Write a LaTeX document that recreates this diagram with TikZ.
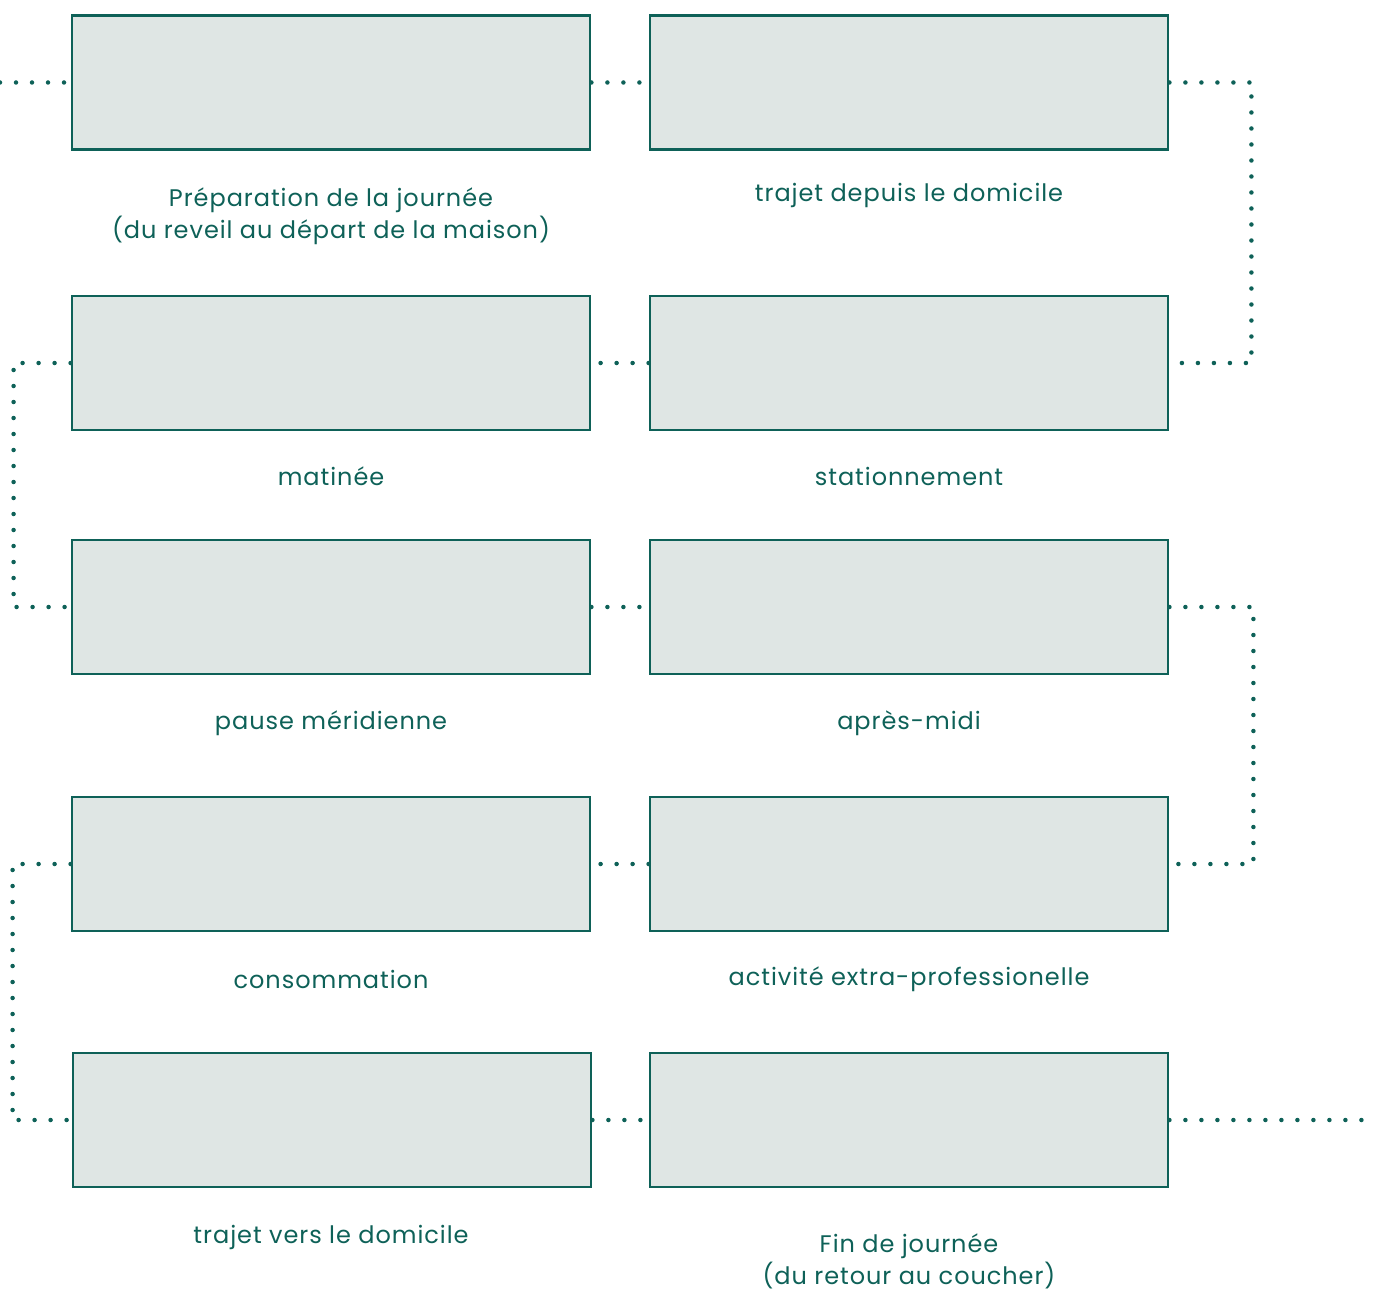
\documentclass[tikz,border=0pt]{standalone}
\usepackage{fontspec}
\setmainfont[LetterSpace=4]{Poppins}
\usepackage{tikz}
\usetikzlibrary{positioning}

\definecolor{teal}{HTML}{0E6158}
\definecolor{boxfill}{HTML}{DFE6E4}

\tikzset{
	stagebox/.style={draw=teal, fill=boxfill, line width=2.8pt, rectangle,
		minimum width=518pt, minimum height=134pt, inner sep=0pt},
	stagelabel/.style={text=teal, align=center, font=\fontsize{24}{32}\selectfont},
	dotline/.style={draw=teal, line width=4.5pt, line cap=round,
		dash pattern=on 0pt off 16pt}
}

\begin{document}
\begin{tikzpicture}[x=1pt, y=-1pt]
	\useasboundingbox (0,0) rectangle (1373,1292);

	% boxes
	\node[stagebox] (prep) at (331,82.5) {};
	\node[stagebox] (aller) at (909,82.5) {};
	\node[stagebox] (matin) at (331,363) {};
	\node[stagebox] (station) at (909,363) {};
	\node[stagebox] (pause) at (331,607) {};
	\node[stagebox] (aprem) at (909,607) {};
	\node[stagebox] (conso) at (331,864) {};
	\node[stagebox] (extra) at (909,864) {};
	\node[stagebox] (retour) at (332,1120) {};
	\node[stagebox] (fin) at (909,1120) {};

	% labels
	\node[stagelabel] (lprep) at (331,216) {Préparation de la journée\\(du reveil au départ de la maison)};
	\node[stagelabel] (laller) at (909,195) {trajet depuis le domicile};
	\node[stagelabel] (lmatin) at (331,476) {matinée};
	\node[stagelabel] (lstation) at (909,476) {stationnement};
	\node[stagelabel] (lpause) at (331,723) {pause méridienne};
	\node[stagelabel] (laprem) at (909,723) {après-midi};
	\node[stagelabel] (lconso) at (331,979) {consommation};
	\node[stagelabel] (lextra) at (909,979) {activité extra-professionelle};
	\node[stagelabel] (lretour) at (331,1237) {trajet vers le domicile};
	\node[stagelabel, inner sep=0pt] (lfin) at (909,1261) {Fin de journée\\(du retour au coucher)};

	% dotted path
	\coordinate (debut) at (0,82.5);
	\coordinate (sortie) at (1373,1120);
	\draw[dotline] (debut) -- (prep.west);
	\draw[dotline] (prep.east) -- (aller.west);
	\draw[dotline] (aller.east) -- ++(82,0) |- (station.east);
	\draw[dotline] (station.west) -- (matin.east);
	\draw[dotline] (matin.west) -- ++(-57,0) |- (pause.west);
	\draw[dotline] (pause.east) -- (aprem.west);
	\draw[dotline] (aprem.east) -- ++(84,0) |- (extra.east);
	\draw[dotline] (extra.west) -- (conso.east);
	\draw[dotline] (conso.west) -- ++(-58,0) |- (retour.west);
	\draw[dotline] (retour.east) -- (fin.west);
	\draw[dotline] (fin.east) -- (sortie);
\end{tikzpicture}
\end{document}
